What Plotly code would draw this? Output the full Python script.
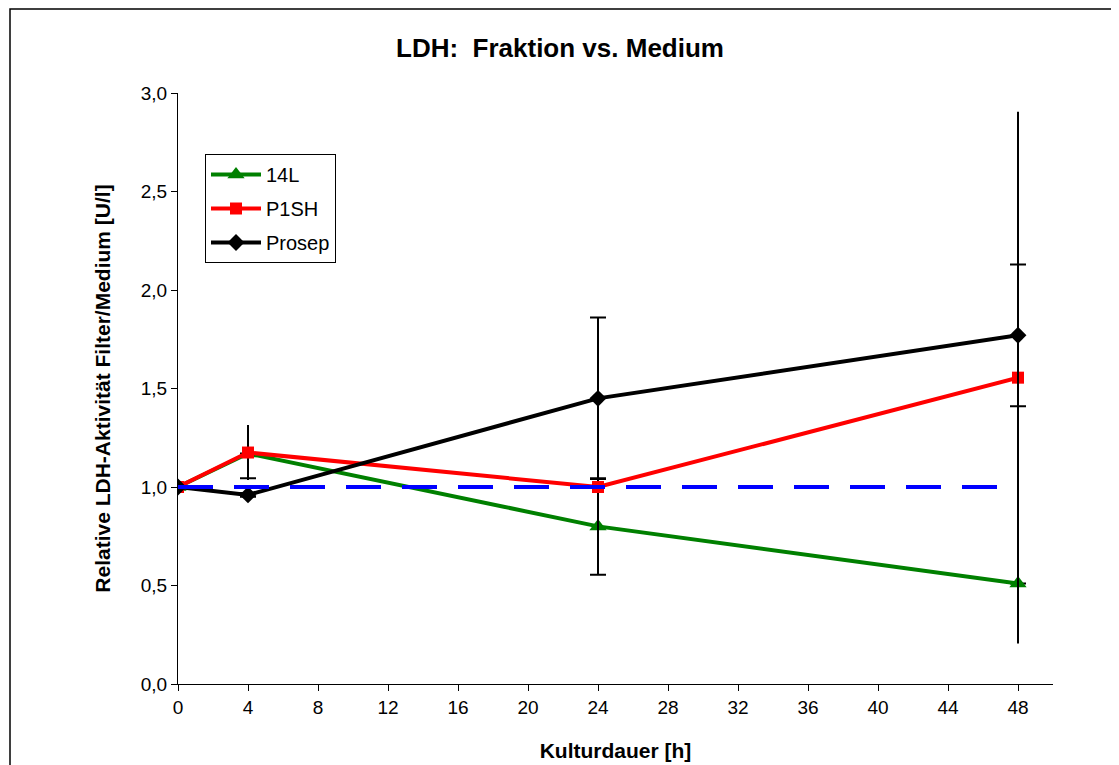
import plotly.graph_objects as go

hours = [0, 4, 24, 48]

l14_values = [1.00, 1.17, 0.80, 0.51]
l14_err_plus = [0.0, 0.0, 0.245, 0.0]
l14_err_minus = [0.0, 0.125, 0.245, 0.0]

p1sh_values = [1.00, 1.175, 1.00, 1.555]
p1sh_err_plus = [0.0, 0.14, 0.27, 1.35]
p1sh_err_minus = [0.0, 0.14, 0.27, 1.35]

prosep_values = [1.00, 0.96, 1.45, 1.77]
prosep_err = [0.0, 0.01, 0.41, 0.36]

reference_x = [0, 48]
reference_y = [1.0, 1.0]

fig = go.Figure()

fig.add_trace(go.Scatter(
    x=hours, y=l14_values, name="14L", mode="lines+markers", legendgroup="a",
    line=dict(color="#008000", width=4),
    marker=dict(symbol="triangle-up", size=15, color="#008000"),
    error_y=dict(type="data", symmetric=False, array=l14_err_plus, arrayminus=l14_err_minus,
                 color="black", thickness=2, width=8),
))
fig.add_trace(go.Scatter(
    x=hours, y=p1sh_values, name="P1SH", mode="lines+markers", legendgroup="b",
    line=dict(color="#FF0000", width=4),
    marker=dict(symbol="square", size=12, color="#FF0000"),
    error_y=dict(type="data", symmetric=False, array=p1sh_err_plus, arrayminus=p1sh_err_minus,
                 color="black", thickness=2, width=0),
))
fig.add_trace(go.Scatter(
    x=hours, y=prosep_values, name="Prosep", mode="lines+markers", legendgroup="c",
    line=dict(color="black", width=4),
    marker=dict(symbol="diamond", size=13, color="black"),
    error_y=dict(type="data", array=prosep_err, color="black", thickness=2, width=8),
))
fig.add_trace(go.Scatter(
    x=reference_x, y=reference_y, mode="lines", showlegend=False, hoverinfo="skip",
    line=dict(color="#0000FF", width=4, dash="35px,21px"),
))

OFF = 8  # default page body margin
W, H = 1119 - OFF, 765 - OFF
L, T = 178 - OFF, 93 - OFF
R = W - (1053 - OFF)
B = H - (684 - OFF)
pw, ph = W - L - R, H - T - B

fig.update_layout(
    width=W, height=H,
    margin=dict(l=L, r=R, t=T, b=B, autoexpand=False),
    paper_bgcolor="white", plot_bgcolor="white",
    separators=",.",
    font=dict(family="Arial, Liberation Sans, sans-serif", size=19, color="black"),
    title=dict(text="<b>LDH:  Fraktion vs. Medium</b>", x=(560 - OFF) / W, xanchor="center",
               y=1 - (48 - OFF) / H, yanchor="middle", font=dict(size=26)),
    showlegend=True,
    legend=dict(x=(205 - 178) / pw, y=(684 - 154) / ph, xanchor="left", yanchor="top",
                bordercolor="black", borderwidth=1, bgcolor="white",
                font=dict(size=20), itemwidth=50, tracegroupgap=5),
    xaxis=dict(range=[0, 50], tickmode="array", tickvals=list(range(0, 49, 4)),
               ticks="outside", ticklen=6, tickcolor="black", showline=True,
               linecolor="black", linewidth=1, showgrid=False, zeroline=False,
               title=dict(text="<b>Kulturdauer [h]</b>", font=dict(size=21), standoff=26)),
    yaxis=dict(range=[0, 3], dtick=0.5, tickformat=".1f",
               ticks="outside", ticklen=6, tickcolor="black", showline=True,
               linecolor="black", linewidth=1, showgrid=False, zeroline=False,
               title=dict(text="<b>Relative LDH-Aktivität Filter/Medium [U/l]</b>",
                          font=dict(size=21), standoff=24)),
)

fig.add_shape(type="rect", xref="paper", yref="paper",
              x0=(10 - 178) / pw, x1=(1130 - 178) / pw,
              y0=(684 - 780) / ph, y1=(684 - 9) / ph,
              line=dict(color="black", width=1.5), fillcolor="rgba(0,0,0,0)", layer="below")

fig.write_html("out.html")
